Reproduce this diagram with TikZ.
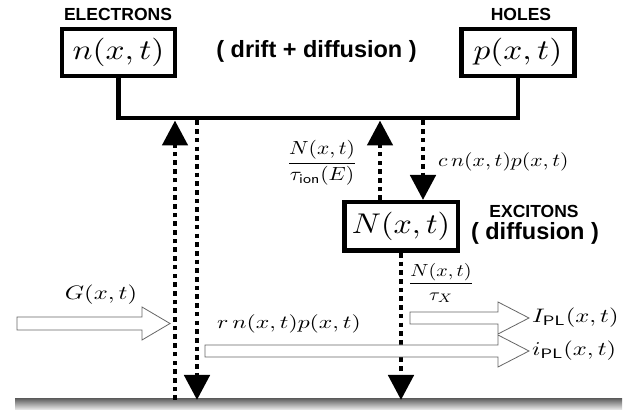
\documentclass[tikz,border=0pt]{standalone}
\usepackage{fontspec}
\usepackage{graphicx}
\usetikzlibrary{arrows.meta}
\newfontfamily\labfont{Liberation Sans}
\newcommand{\sx}[3]{\scalebox{#1}[#2]{#3}}
\begin{document}
\begin{tikzpicture}[x=1pt,y=-1pt,
  box/.style={draw, line width=4.5pt, inner sep=0pt, fill=white, minimum width=113pt, minimum height=47pt},
  bus/.style={line width=4.5pt},
  dots/.style={line width=4.8pt, dash pattern=on 4.6pt off 4.1pt},
  tip/.style={-{Triangle[length=25pt,width=25pt]}},
  hollow/.style={draw=black!60, line width=0.8pt, fill=white},
  captxt/.style={font=\labfont\bfseries\fontsize{17.5}{18}\selectfont, inner sep=0pt},
  parentxt/.style={font=\labfont\bfseries\fontsize{23.5}{26}\selectfont, inner sep=0pt},
  lbl/.style={inner sep=0pt},
]
\useasboundingbox (0,0) rectangle (641,411);

% bottom surface
\shade[top color=black!60, bottom color=black!6] (15,399) rectangle (622,410);

% boxes
\node[box] (n) at (118.5,52.5) {\sx{3.33}{2.85}{$n(x,t)$}};
\node[box] (p) at (518,52.5) {\sx{3.33}{2.85}{$p(x,t)$}};
\node[box, minimum width=113.5pt, minimum height=48.5pt] (N) at (401,226.5) {\sx{3.2}{2.85}{$N(x,t)$}};

% captions
\node[captxt] (el) at (118,14) {ELECTRONS};
\node[captxt] (ho) at (521,14) {HOLES};
\node[captxt] (ex) at (534,211) {EXCITONS};
\node[parentxt] (dd) at (316.5,51) {(\ drift + diffusion\ )};
\node[parentxt] (df) at (535,233) {( diffusion )};

% bus
\coordinate (busy) at (0,118);
\coordinate (bt) at (0,120.5);
\coordinate (floor) at (0,400);
\coordinate (a1) at (175,0);
\coordinate (a2) at (197,0);
\coordinate (a3) at (380,0);
\coordinate (a4) at (423,0);
\draw[bus] (n.south) -- (n.south |- busy) -| (p.south);

% dotted transfer arrows
\draw[dots,tip] (a1 |- floor) -- (a1 |- bt);
\draw[dots,tip] (a2 |- bt) -- (a2 |- floor);
\draw[dots,tip] (a3 |- N.north) -- (a3 |- bt);
\draw[dots,tip] (a4 |- bt) -- (a4 |- N.north);
\draw[dots,tip] (N.south) -- (N.south |- floor);

% hollow arrows
\draw[hollow] (17,317) -- (142,317) -- (142,307) -- (170,323.5) -- (142,340) -- (142,330) -- (17,330) -- cycle;
\draw[hollow] (205,345) -- (498,345) -- (498,335) -- (529,351) -- (498,367) -- (498,357) -- (205,357) -- cycle;
\draw[hollow] (410,312) -- (498,312) -- (498,302) -- (529,318) -- (498,334) -- (498,324) -- (410,324) -- cycle;

% labels
\node[lbl] (lG) at (101,294.5) {\sx{2.45}{1.95}{$G(x,t)$}};
\node[lbl, anchor=west] (lr) at (217,324) {\sx{2.37}{1.85}{$r\,n(x,t)p(x,t)$}};
\node[lbl] (lion) at (322,163) {\sx{2.15}{1.9}{$\displaystyle\frac{N(x,t)}{\tau_{\mathsf{ion}}(E)}$}};
\node[lbl, anchor=west] (lc) at (438,162) {\sx{2.17}{1.85}{$c\,n(x,t)p(x,t)$}};
\node[lbl] (lX) at (441,283) {\sx{2.0}{1.75}{$\displaystyle\frac{N(x,t)}{\tau_X}$}};
\node[lbl, anchor=west] (lI) at (532,318) {\sx{2.45}{1.95}{$I_{\mathsf{PL}}(x,t)$}};
\node[lbl, anchor=west] (li) at (532,351) {\sx{2.45}{1.95}{$i_{\mathsf{PL}}(x,t)$}};
\end{tikzpicture}
\end{document}
